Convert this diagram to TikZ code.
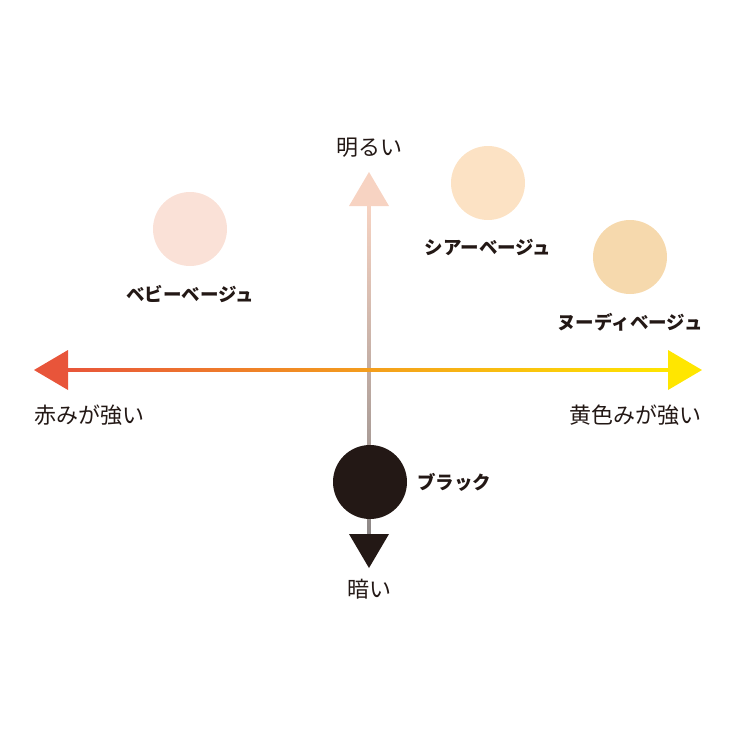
\documentclass[tikz,border=0pt]{standalone}
\usepackage{fontspec}
\usetikzlibrary{positioning}
\newfontfamily\jp{Noto Sans CJK JP}
\definecolor{redside}{HTML}{E8553A}
\definecolor{orangemid}{HTML}{F6A01E}
\definecolor{yellowside}{HTML}{FFE600}
\definecolor{lighttop}{HTML}{F7D3C2}
\definecolor{graybottom}{HTML}{8C8786}
\definecolor{babybeige}{HTML}{FAE1D7}
\definecolor{sheerbeige}{HTML}{FCE2C4}
\definecolor{nudebeige}{HTML}{F6D9AD}
\definecolor{blackchip}{HTML}{231815}
\definecolor{labeltext}{HTML}{231815}

\begin{document}
\begin{tikzpicture}[x=1pt,y=-1pt,
    chip/.style={circle,minimum size=74pt,inner sep=0pt},
    axislabel/.style={font=\jp\fontsize{22}{22}\selectfont,text=labeltext,inner sep=0pt},
    chiplabel/.style={font=\jp\bfseries\fontsize{18.5}{18.5}\selectfont,text=labeltext,inner sep=0pt}]
    \useasboundingbox (0,0) rectangle (740,740);

    % axis ends
    \coordinate (redtip) at (34,370);
    \coordinate (yellowtip) at (702,370);
    \coordinate (lighttip) at (369,172);
    \coordinate (darktip) at (369,568);

    % bright / dark axis
    \shade[top color=lighttop, bottom color=graybottom] (367.5,204) rectangle (370.5,536);
    \fill[lighttop] (lighttip) -- ++(-20,34) -- ++(40,0) -- cycle;
    \fill[blackchip] (darktip) -- ++(-20,-34) -- ++(40,0) -- cycle;

    % red / yellow axis
    \shade[left color=redside, middle color=orangemid, right color=yellowside] (66,368.5) rectangle (670,371.5);
    \fill[redside] (redtip) -- ++(34,-20) -- ++(0,40) -- cycle;
    \fill[yellowside] (yellowtip) -- ++(-34,-20) -- ++(0,40) -- cycle;

    \node[axislabel, above=14pt of lighttip] (bright) {明るい};
    \node[axislabel, below=11pt of darktip] (dark) {暗い};
    \node[axislabel, below right=35pt and 0pt of redtip] (reddish) {赤みが強い};
    \node[axislabel, below left=35pt and 0pt of yellowtip] (yellowish) {黄色みが強い};

    % colour chips
    \node[chip, fill=babybeige] (baby) at (190,229) {};
    \node[chiplabel, below=19pt of baby] (babylabel) {ベビーベージュ};

    \node[chip, fill=sheerbeige] (sheer) at (488,183) {};
    \node[chiplabel, below=19pt of sheer] (sheerlabel) {シアーベージュ};

    \node[chip, fill=nudebeige] (nude) at (630,257) {};
    \node[chiplabel, below=19pt of nude] (nudelabel) {ヌーディベージュ};

    \node[chip, fill=blackchip] (black) at (370,482) {};
    \node[chiplabel, right=10pt of black] (blacklabel) {ブラック};
\end{tikzpicture}
\end{document}
